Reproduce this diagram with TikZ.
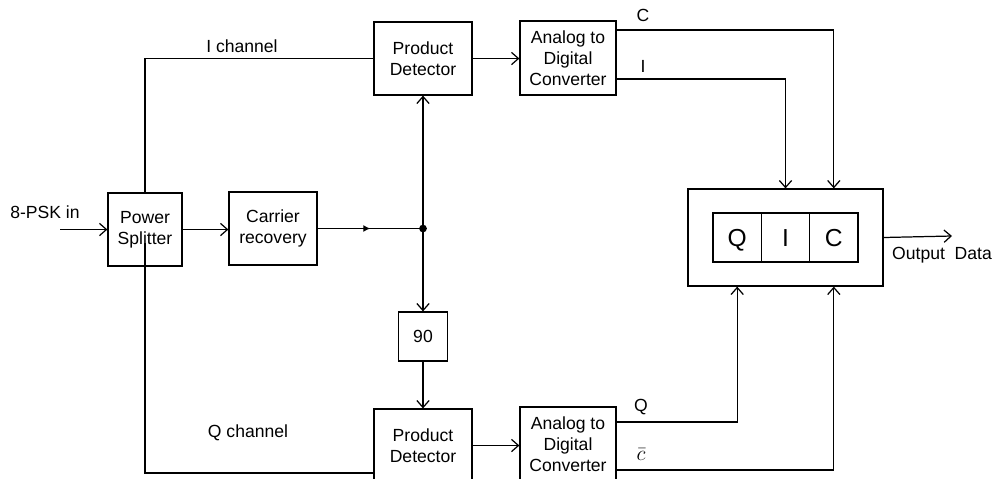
\documentclass[tikz,border=0pt]{standalone}
\usepackage{fontspec}
\setmainfont{Liberation Sans}
\usetikzlibrary{arrows.meta,decorations.markings}

\begin{document}
\begin{tikzpicture}[x=0.02cm,y=-0.02cm,line width=0.7pt,
  >={Straight Barb[length=4pt,width=7pt]},
  blk/.style={draw,align=center,inner sep=0pt,font=\fontsize{10}{12}\selectfont},
  cell/.style={draw,inner sep=0pt,minimum width=0.966cm,minimum height=0.98cm,text height=10pt,text depth=0pt,font=\fontsize{14}{16}\selectfont},
  lbl/.style={font=\fontsize{10}{12}\selectfont}]
\useasboundingbox (0,0) rectangle (994,478);

\node[blk,minimum width=1.48cm,minimum height=1.46cm] (ps) at (145,229.5) {Power\\Splitter};
\node[blk,minimum width=1.76cm,minimum height=1.46cm] (cr) at (273,228.5) {Carrier\\recovery};

\node[blk,minimum width=1.96cm,minimum height=1.46cm] (pdi) at (423,58.5) {Product\\Detector};
\node[blk,minimum width=1.92cm,minimum height=1.48cm] (adci) at (568,58) {Analog to\\Digital\\Converter};

\node[blk,minimum width=0.98cm,minimum height=0.98cm] (nin) at (423,336.5) {90};

\node[blk,minimum width=1.96cm,minimum height=1.46cm] (pdq) at (423,445.5) {Product\\Detector};
\node[blk,minimum width=1.92cm,minimum height=1.48cm] (adcq) at (568,444) {Analog to\\Digital\\Converter};

\node[draw,minimum width=3.9cm,minimum height=1.94cm] (qic) at (785.5,237.5) {};
\node[cell] (cq) at (737.2,237.5) {Q};
\node[cell] (ci) at (785.5,237.5) {I};
\node[cell] (cc) at (833.8,237.5) {C};

\node[lbl] (inlbl) at (45,212) {8-PSK in};
\node[lbl] (ilbl) at (242,46) {I channel};
\node[lbl] (qlbl) at (248,433) {Q channel};
\node[lbl] (clbl) at (643,15) {C};
\node[lbl] (illbl) at (643,66) {I};
\node[lbl] (qqlbl) at (641,407) {Q};
\node[font=\fontsize{12}{14}\selectfont] (cblbl) at (641,455) {$\bar{c}$};
\node[lbl] (outlbl) at (942,255) {Output\ \ Data};

\coordinate (in) at (60,229.5);
\coordinate (out) at (952,236);
\coordinate (jn) at (pdi.south |- cr.east);
\coordinate (qs) at (145,243);
\coordinate (qc) at (145,473);
\coordinate (cout) at (616,30);
\coordinate (iout) at (616,79);
\coordinate (qout) at (616,422);
\coordinate (cbout) at (616,470);

\draw[->] (in) -- (ps.west);
\draw[->] (ps.east) -- (ps.east -| cr.west);
\draw[postaction={decorate},decoration={markings,mark=at position 0.5 with {\arrow{Latex[length=4pt,width=4pt]}}}] (cr.east) -- (jn);
\fill (jn) circle (2.2pt);
\draw[->] (jn) -- (pdi.south);
\draw[->] (jn) -- (nin.north);
\draw[->] (nin.south) -- (pdq.north);

\draw (ps.north) |- (pdi.west);
\draw (qs) -- (qc) -- (qc -| pdq.west);

\draw[->] (pdi.east) -- (pdi.east -| adci.west);
\draw[->] (pdq.east) -- (pdq.east -| adcq.west);

\draw[->] (cout) -| (cc |- qic.north);
\draw[->] (iout) -| (ci |- qic.north);
\draw[->] (qout) -| (cq |- qic.south);
\draw[->] (cbout) -| (cc |- qic.south);
\draw[->] (qic.east) -- (out);
\end{tikzpicture}
\end{document}
